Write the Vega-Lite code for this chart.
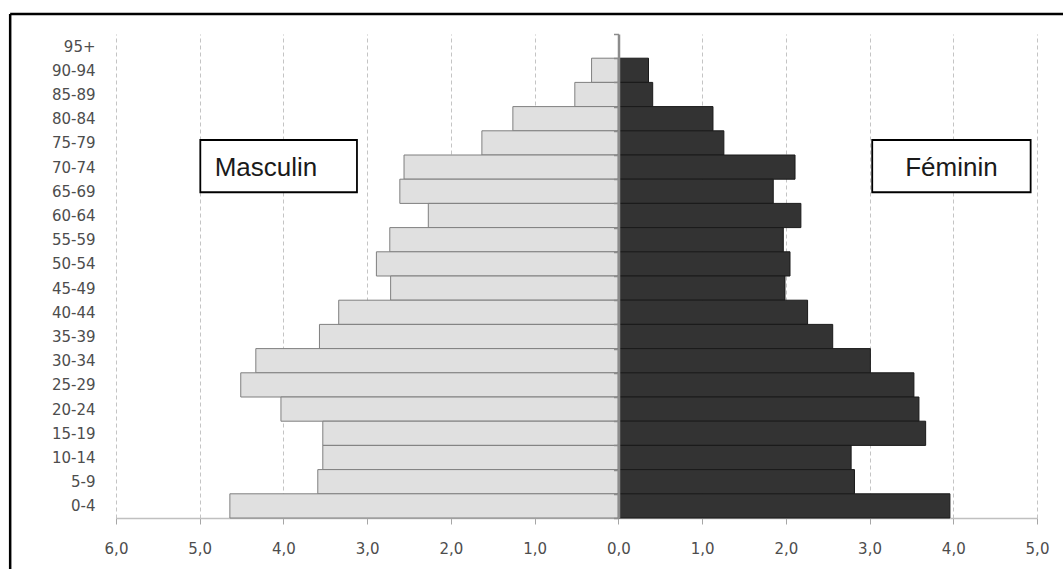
{
  "$schema": "https://vega.github.io/schema/vega-lite/v6.json",
  "width": 921,
  "height": 484,
  "autosize": "none",
  "padding": {"left": 116, "top": 34, "right": 26, "bottom": 51},
  "background": "white",
  "config": {"view": {"stroke": null}},
  "datasets": {
    "pyramid": [
      {"age": "90-94", "sex": "Masculin", "pct": -0.32},
      {"age": "85-89", "sex": "Masculin", "pct": -0.52},
      {"age": "80-84", "sex": "Masculin", "pct": -1.26},
      {"age": "75-79", "sex": "Masculin", "pct": -1.63},
      {"age": "70-74", "sex": "Masculin", "pct": -2.56},
      {"age": "65-69", "sex": "Masculin", "pct": -2.61},
      {"age": "60-64", "sex": "Masculin", "pct": -2.27},
      {"age": "55-59", "sex": "Masculin", "pct": -2.73},
      {"age": "50-54", "sex": "Masculin", "pct": -2.89},
      {"age": "45-49", "sex": "Masculin", "pct": -2.72},
      {"age": "40-44", "sex": "Masculin", "pct": -3.34},
      {"age": "35-39", "sex": "Masculin", "pct": -3.57},
      {"age": "30-34", "sex": "Masculin", "pct": -4.33},
      {"age": "25-29", "sex": "Masculin", "pct": -4.51},
      {"age": "20-24", "sex": "Masculin", "pct": -4.03},
      {"age": "15-19", "sex": "Masculin", "pct": -3.53},
      {"age": "10-14", "sex": "Masculin", "pct": -3.53},
      {"age": "5-9", "sex": "Masculin", "pct": -3.59},
      {"age": "0-4", "sex": "Masculin", "pct": -4.64},
      {"age": "90-94", "sex": "Féminin", "pct": 0.36},
      {"age": "85-89", "sex": "Féminin", "pct": 0.41},
      {"age": "80-84", "sex": "Féminin", "pct": 1.13},
      {"age": "75-79", "sex": "Féminin", "pct": 1.26},
      {"age": "70-74", "sex": "Féminin", "pct": 2.11},
      {"age": "65-69", "sex": "Féminin", "pct": 1.85},
      {"age": "60-64", "sex": "Féminin", "pct": 2.18},
      {"age": "55-59", "sex": "Féminin", "pct": 1.97},
      {"age": "50-54", "sex": "Féminin", "pct": 2.05},
      {"age": "45-49", "sex": "Féminin", "pct": 1.99},
      {"age": "40-44", "sex": "Féminin", "pct": 2.26},
      {"age": "35-39", "sex": "Féminin", "pct": 2.56},
      {"age": "30-34", "sex": "Féminin", "pct": 3.01},
      {"age": "25-29", "sex": "Féminin", "pct": 3.53},
      {"age": "20-24", "sex": "Féminin", "pct": 3.59},
      {"age": "15-19", "sex": "Féminin", "pct": 3.67},
      {"age": "10-14", "sex": "Féminin", "pct": 2.78},
      {"age": "5-9", "sex": "Féminin", "pct": 2.82},
      {"age": "0-4", "sex": "Féminin", "pct": 3.96}
    ]
  },
  "resolve": {"scale": {"y": "independent"}, "axis": {"y": "independent"}},
  "layer": [
    {
      "data": {"name": "pyramid"},
      "mark": {"type": "bar", "strokeWidth": 1},
      "encoding": {
        "y": {
          "field": "age",
          "type": "ordinal",
          "scale": {
            "domain": ["95+", "90-94", "85-89", "80-84", "75-79", "70-74", "65-69", "60-64", "55-59", "50-54", "45-49", "40-44", "35-39", "30-34", "25-29", "20-24", "15-19", "10-14", "5-9", "0-4"],
            "paddingInner": 0,
            "paddingOuter": 0
          },
          "axis": {
            "orient": "left",
            "offset": -502.5,
            "title": null,
            "domainColor": "#8c8c8c",
            "domainWidth": 2.5,
            "ticks": true,
            "tickBand": "extent",
            "tickSize": 5,
            "tickColor": "#8c8c8c",
            "tickWidth": 1.5,
            "labelPadding": 518.5,
            "labelFont": "DejaVu Sans",
            "labelFontSize": 15,
            "labelColor": "#4d4d4d",
            "grid": false,
            "zindex": 1
          }
        },
        "x": {
          "field": "pct",
          "type": "quantitative",
          "scale": {"domain": [-6, 5], "nice": false, "zero": true},
          "axis": {
            "values": [-6, -5, -4, -3, -2, -1, 0, 1, 2, 3, 4, 5],
            "labelExpr": "replace(format(abs(datum.value), '.1f'), '.', ',')",
            "labelFlush": false,
            "labelOverlap": false,
            "title": null,
            "grid": true,
            "gridDash": [4, 3],
            "gridColor": "#c4c4c4",
            "gridWidth": 1,
            "domainColor": "#c0c0c0",
            "domainWidth": 1.5,
            "tickColor": "#a6a6a6",
            "tickSize": 6,
            "labelPadding": 17,
            "labelFont": "DejaVu Sans",
            "labelFontSize": 15,
            "labelColor": "#4d4d4d"
          }
        },
        "color": {
          "field": "sex",
          "type": "nominal",
          "scale": {"domain": ["Masculin", "Féminin"], "range": ["#e0e0e0", "#333333"]},
          "legend": null
        },
        "stroke": {
          "field": "sex",
          "type": "nominal",
          "scale": {"domain": ["Masculin", "Féminin"], "range": ["#7f7f7f", "#1a1a1a"]},
          "legend": null
        }
      }
    },
    {
      "data": {"values": [{}]},
      "mark": {"type": "rule", "color": "#000000", "strokeWidth": 2.5},
      "encoding": {
        "x": {"datum": -7.264, "type": "quantitative", "scale": {"domain": [-6, 5], "nice": false}},
        "y": {"datum": -0.826, "type": "quantitative", "scale": {"domain": [0, 20], "reverse": true, "nice": false, "zero": false}, "axis": null},
        "y2": {"datum": 30}
      }
    },
    {
      "data": {"values": [{}]},
      "mark": {"type": "rule", "color": "#000000", "strokeWidth": 2.5},
      "encoding": {
        "x": {"datum": -7.264, "type": "quantitative", "scale": {"domain": [-6, 5], "nice": false}},
        "x2": {"datum": 7},
        "y": {"datum": -0.826, "type": "quantitative", "scale": {"domain": [0, 20], "reverse": true, "nice": false, "zero": false}, "axis": null}
      }
    },
    {
      "data": {"values": [{}]},
      "mark": {"type": "rect", "fill": "#ffffff", "stroke": "#000000", "strokeWidth": 1.8},
      "encoding": {
        "x": {"datum": -4.993, "type": "quantitative", "scale": {"domain": [-6, 5], "nice": false}},
        "x2": {"datum": -3.122},
        "y": {"datum": 4.38, "type": "quantitative", "scale": {"domain": [0, 20], "reverse": true, "nice": false, "zero": false}, "axis": null},
        "y2": {"datum": 6.54}
      }
    },
    {
      "data": {"values": [{}]},
      "mark": {"type": "rect", "fill": "#ffffff", "stroke": "#000000", "strokeWidth": 1.8},
      "encoding": {
        "x": {"datum": 3.032, "type": "quantitative", "scale": {"domain": [-6, 5], "nice": false}},
        "x2": {"datum": 4.924},
        "y": {"datum": 4.38, "type": "quantitative", "scale": {"domain": [0, 20], "reverse": true, "nice": false, "zero": false}, "axis": null},
        "y2": {"datum": 6.54}
      }
    },
    {
      "data": {"values": [{}]},
      "mark": {"type": "text", "text": "Masculin", "font": "Liberation Sans", "fontSize": 26, "color": "#1a1a1a", "align": "center", "baseline": "alphabetic"},
      "encoding": {
        "x": {"datum": -4.209, "type": "quantitative", "scale": {"domain": [-6, 5], "nice": false}},
        "y": {"datum": 5.855, "type": "quantitative", "scale": {"domain": [0, 20], "reverse": true, "nice": false, "zero": false}, "axis": null}
      }
    },
    {
      "data": {"values": [{}]},
      "mark": {"type": "text", "text": "Féminin", "font": "Liberation Sans", "fontSize": 26, "color": "#1a1a1a", "align": "center", "baseline": "alphabetic"},
      "encoding": {
        "x": {"datum": 3.978, "type": "quantitative", "scale": {"domain": [-6, 5], "nice": false}},
        "y": {"datum": 5.855, "type": "quantitative", "scale": {"domain": [0, 20], "reverse": true, "nice": false, "zero": false}, "axis": null}
      }
    }
  ]
}
